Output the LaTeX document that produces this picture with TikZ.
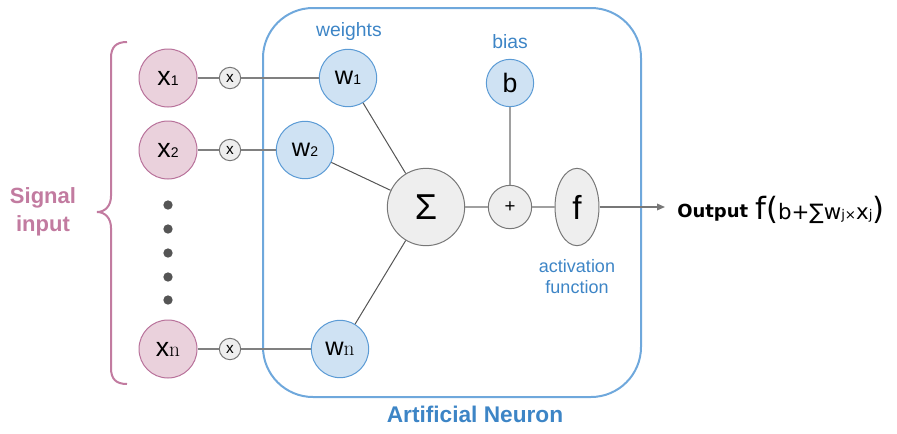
\documentclass[tikz,border=0pt]{standalone}
\usepackage{fontspec}
\setmainfont{Liberation Sans}
\newfontfamily\dejavu{DejaVu Sans}
\newfontfamily\lmserif{Latin Modern Roman}
\usetikzlibrary{shapes.geometric,arrows.meta}
\definecolor{pinkfill}{HTML}{EAD1DC}
\definecolor{pinkline}{HTML}{B8719A}
\definecolor{pinktext}{HTML}{C27BA0}
\definecolor{bluefill}{HTML}{CFE2F3}
\definecolor{blueline}{HTML}{5B9BD5}
\definecolor{boxline}{HTML}{6FA8DC}
\definecolor{bluetext}{HTML}{3D85C6}
\definecolor{grayfill}{HTML}{EEEEEE}
\definecolor{grayline}{HTML}{777777}
\definecolor{linegray}{HTML}{808080}
\definecolor{lightline}{HTML}{A0A0A0}
\definecolor{darkline}{HTML}{555555}
\definecolor{dotgray}{HTML}{555555}
\tikzset{
  inputnode/.style={circle,draw=pinkline,fill=pinkfill,line width=0.75pt,inner sep=0pt,minimum size=43.5pt,font=\fontsize{20}{20}\selectfont},
  weightnode/.style={circle,draw=blueline,fill=bluefill,line width=0.75pt,inner sep=0pt,minimum size=43pt,font=\fontsize{19}{19}\selectfont},
  multnode/.style={circle,draw=grayline,fill=grayfill,line width=0.75pt,inner sep=0pt,minimum size=16pt,font=\fontsize{11.5}{11.5}\selectfont},
  graynode/.style={circle,draw=grayline,fill=grayfill,line width=0.75pt,inner sep=0pt},
  conn/.style={draw=linegray,line width=0.9pt},
  wconn/.style={draw=darkline,line width=0.75pt},
  lconn/.style={draw=lightline,line width=1.2pt},
  bluelabel/.style={text=bluetext,inner sep=0pt},
  dotnode/.style={circle,fill=dotgray,inner sep=0pt,minimum size=7pt},
}
\begin{document}
\begin{tikzpicture}[x=0.75pt,y=-0.75pt]
\useasboundingbox (0,0) rectangle (897,433);
% neuron box
\draw[draw=boxline,line width=1.5pt,rounded corners=37.5pt] (263,8) rectangle (641,397);
\node[text=bluetext,font=\bfseries\fontsize{17}{17}\selectfont] (title) at (475,414) {Artificial Neuron};
% brace
\draw[pinktext,line width=1.5pt] (127,42) .. controls (116,42) and (111,47) .. (111,58) -- (111,196) .. controls (111,206) and (105,212) .. (97,212) .. controls (105,212) and (111,218) .. (111,228) -- (111,368) .. controls (111,379) and (116,384) .. (127,384);
\node[text=pinktext,align=center,font=\bfseries\fontsize{16.5}{21}\selectfont] (signal) at (43,212) {Signal\\input};
% inputs
\node[inputnode] (x1) at (168,78) {x\fontsize{10.5}{10.5}\selectfont 1};
\node[inputnode] (x2) at (168,150) {x\fontsize{10.5}{10.5}\selectfont 2};
\node[inputnode] (xn) at (168,349) {x{\lmserif\fontsize{16}{16}\selectfont n}};
\foreach \i/\yy in {1/205,2/229,3/253,4/277,5/300}{\node[dotnode] (d\i) at (168,\yy) {};}
% multipliers
\node[multnode] (m1) at (230,78) {x};
\node[multnode] (m2) at (230,150) {x};
\node[multnode] (mn) at (230,349) {x};
% weights
\node[weightnode] (w1) at (348,78) {w\fontsize{10.5}{10.5}\selectfont 1};
\node[weightnode] (w2) at (305,150) {w\fontsize{10.5}{10.5}\selectfont 2};
\node[weightnode] (wn) at (340,349) {w{\lmserif\fontsize{16}{16}\selectfont n}};
\node[bluelabel,font=\fontsize{14.5}{14.5}\selectfont] (wlabel) at (349,31) {weights};
% sum, bias, plus, f
\node[graynode,minimum size=58pt,font=\fontsize{27}{27}\selectfont] (sig) at (426,207) {\raisebox{-0.5pt}{Σ}};
\node[graynode,minimum size=32.5pt,font=\fontsize{14}{14}\selectfont] (plus) at (510,207) {+};
\node[circle,draw=blueline,fill=bluefill,line width=0.75pt,inner sep=0pt,minimum size=35.5pt,font=\fontsize{20}{20}\selectfont] (b) at (510,83) {b};
\node[bluelabel,font=\fontsize{14.5}{14.5}\selectfont] (blabel) at (510,42) {bias};
\node[ellipse,draw=grayline,fill=grayfill,line width=0.75pt,inner sep=0pt,minimum width=33pt,minimum height=58pt,font=\fontsize{25}{25}\selectfont] (f) at (577,207) {f};
\node[bluelabel,align=center,font=\fontsize{13.5}{15.75}\selectfont] (alabel) at (577,277) {activation\\function};
\coordinate (out) at (665,207);
% connectors
\draw[conn] (x1) -- (m1); \draw[conn] (m1) -- (w1);
\draw[conn] (x2) -- (m2); \draw[conn] (m2) -- (w2);
\draw[conn] (xn) -- (mn); \draw[conn] (mn) -- (wn);
\draw[wconn] (w1) -- (sig);
\draw[wconn] (w2) -- (sig);
\draw[wconn] (wn) -- (sig);
\draw[lconn] (sig) -- (plus);
\draw[lconn] (b) -- (plus);
\draw[lconn] (plus) -- (f);
\draw[draw=grayline,line width=0.9pt,-{Triangle[length=6pt,width=5pt]}] (f) -- (out);
% output
\node[anchor=base west,inner sep=0pt,font=\dejavu\bfseries\fontsize{13.5}{13.5}\selectfont] (outlabel) at (677,217) {Output};
\node[anchor=base west,inner sep=0pt,font=\dejavu] (formula) at (755,219) {\fontsize{23}{23}\selectfont f(\fontsize{16}{16}\selectfont b+∑w\fontsize{10}{10}\selectfont j×\fontsize{16}{16}\selectfont x\fontsize{10}{10}\selectfont j\fontsize{23}{23}\selectfont)};
\end{tikzpicture}
\end{document}
